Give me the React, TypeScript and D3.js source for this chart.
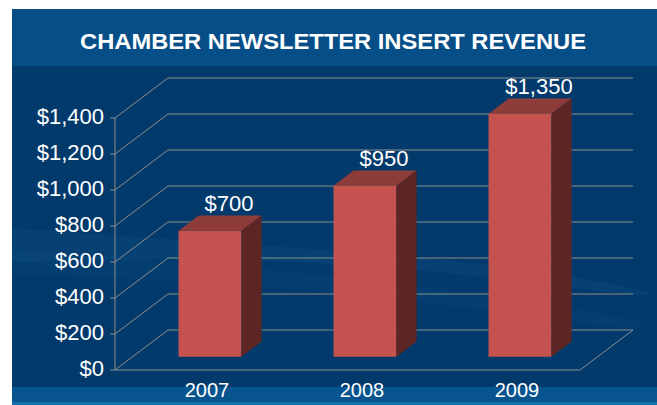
import React from "react";
import * as d3 from "d3";

const title = "CHAMBER NEWSLETTER INSERT REVENUE";
const years = ["2007", "2008", "2009"];
const revenue = [700, 950, 1350];
const yTicks = [0, 200, 400, 600, 800, 1000, 1200, 1400];

const W = 657;
const H = 405;
const FONT = "'Liberation Sans', Arial, Helvetica, sans-serif";

export default function App() {
  const left = 115;
  const right = 580;
  const depthX = 53;
  const depthY = -40;
  const f1 = 0.33;
  const f2 = 0.71;

  const y = d3.scaleLinear().domain([0, 1400]).range([370, 118]);
  const x = d3
    .scaleBand<string>()
    .domain(years)
    .range([left, right])
    .paddingInner(0.594)
    .paddingOuter(0.297);
  const fmt = (v: number) => "$" + d3.format(",")(v);
  const grid = "#8d8d8d";

  const wave1 = d3.line<[number, number]>().curve(d3.curveBasis)([
    [12, 228], [150, 238], [330, 250], [480, 262], [657, 290],
    [657, 300], [480, 275], [330, 262], [150, 258], [12, 262],
  ]) as string;
  const wave2 = d3.line<[number, number]>().curve(d3.curveBasis)([
    [12, 250], [200, 262], [420, 285], [657, 320],
    [657, 335], [420, 300], [200, 280], [12, 275],
  ]) as string;

  return (
    <svg width={W} height={H} style={{ display: "block", position: "absolute", left: 0, top: 0 }}>
      <rect x={0} y={0} width={W} height={H} fill="#ffffff" />
      <rect x={12} y={9} width={W - 12} height={H - 9} fill="#023a6c" />
      <path d={wave1} fill="#2a6fa6" opacity={0.14} />
      <path d={wave2} fill="#2a6fa6" opacity={0.08} />
      <rect x={12} y={9} width={W - 12} height={57} fill="#054e87" />
      <rect x={12} y={387} width={W - 12} height={15} fill="#08548e" />
      <rect x={12} y={402} width={W - 12} height={3} fill="#1470ae" />

      <text
        x={333}
        y={49}
        textAnchor="middle"
        fill="#ffffff"
        fontFamily={FONT}
        fontWeight="bold"
        fontSize={22}
        textLength={506}
        lengthAdjust="spacingAndGlyphs"
      >
        {title}
      </text>

      {/* gridlines: diagonal on left wall + back wall horizontals */}
      {yTicks.map((t) => (
        <g key={t}>
          <line x1={left} y1={y(t)} x2={left + depthX} y2={y(t) + depthY} stroke={grid} strokeWidth={1} />
          <line x1={left + depthX} y1={y(t) + depthY} x2={right + depthX} y2={y(t) + depthY} stroke={grid} strokeWidth={1} />
          <line x1={left - 5} y1={y(t)} x2={left} y2={y(t)} stroke={grid} strokeWidth={1} />
          <text
            x={104}
            y={y(t) + 6}
            textAnchor="end"
            fill="#ffffff"
            fontFamily={FONT}
            fontSize={22}
          >
            {fmt(t)}
          </text>
        </g>
      ))}
      {/* floor */}
      <line x1={left} y1={y(0)} x2={right} y2={y(0)} stroke={grid} strokeWidth={1} />
      <line x1={right} y1={y(0)} x2={right + depthX} y2={y(0) + depthY} stroke={grid} strokeWidth={1} />
      {/* axis */}
      <line x1={left} y1={y(0)} x2={left} y2={y(1400)} stroke={grid} strokeWidth={1} />

      {/* bars */}
      {years.map((yr, i) => {
        const v = revenue[i];
        const bx = (x(yr) as number) + depthX * f1;
        const bw = x.bandwidth();
        const by0 = y(0) + depthY * f1;
        const by1 = y(v) + depthY * f1;
        const sx = depthX * (f2 - f1);
        const sy = depthY * (f2 - f1);
        const top = `M${bx},${by1} L${bx + sx},${by1 + sy} L${bx + bw + sx},${by1 + sy} L${bx + bw},${by1} Z`;
        const side = `M${bx + bw},${by1} L${bx + bw + sx},${by1 + sy} L${bx + bw + sx},${by0 + sy} L${bx + bw},${by0} Z`;
        return (
          <g key={yr}>
            <rect x={bx} y={by1} width={bw} height={by0 - by1} fill="#c4534f" />
            <path d={top} fill="#8e3c3a" />
            <path d={side} fill="#5d2625" />
            <text
              x={bx + bw / 2 + 19}
              y={by1 + sy - 5}
              textAnchor="middle"
              fill="#ffffff"
              fontFamily={FONT}
              fontSize={22}
            >
              {fmt(v)}
            </text>
            <text
              x={bx + bw / 2 - 3}
              y={397}
              textAnchor="middle"
              fill="#ffffff"
              fontFamily={FONT}
              fontSize={20}
            >
              {yr}
            </text>
          </g>
        );
      })}
    </svg>
  );
}
